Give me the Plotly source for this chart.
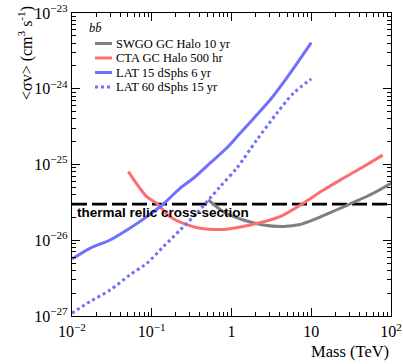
import plotly.graph_objects as go

# ---------------- data ----------------
swgo_mass = [0.512, 0.789, 1.41, 2.51, 4.47, 7.23, 11.7, 19.9, 32.1, 60.0, 100.0]
swgo_sigma = [3.40e-26, 2.38e-26, 1.85e-26, 1.59e-26, 1.52e-26, 1.61e-26, 1.94e-26,
              2.47e-26, 3.08e-26, 4.17e-26, 5.65e-26]

cta_mass = [0.0508, 0.0865, 0.115, 0.169, 0.249, 0.403, 0.789, 1.71, 4.06, 7.94,
            14.2, 25.2, 45.0, 78.7]
cta_sigma = [8.04e-26, 3.76e-26, 3.08e-26, 2.05e-26, 1.67e-26, 1.44e-26, 1.39e-26,
             1.59e-26, 2.05e-26, 3.08e-26, 4.60e-26, 6.58e-26, 9.35e-26, 1.33e-25]

lat15_mass = [0.01, 0.0168, 0.03, 0.053, 0.087, 0.14, 0.226, 0.332, 0.537, 0.871,
              1.28, 2.07, 3.04, 5.42, 10.0]
lat15_sigma = [5.65e-27, 7.83e-27, 1.007e-26, 1.44e-26, 2.05e-26, 3.01e-26, 4.85e-26,
               6.58e-26, 1.04e-25, 1.65e-25, 2.58e-25, 4.50e-25, 7.10e-25, 1.60e-24,
               4.06e-24]

lat60_mass = [0.01, 0.0168, 0.03, 0.053, 0.087, 0.14, 0.226, 0.366, 0.718, 1.16,
              2.07, 3.69, 5.96, 10.0]
lat60_sigma = [1.09e-27, 1.55e-27, 2.20e-27, 3.48e-27, 4.97e-27, 8.22e-27, 1.36e-26,
               2.27e-26, 5.09e-26, 8.91e-26, 2.10e-25, 4.74e-25, 8.71e-25, 1.35e-24]

thermal_mass = [0.01, 100.0]
thermal_sigma = 3e-26

series_names = ["SWGO GC Halo 10 yr", "CTA GC Halo 500 hr",
                "LAT 15 dSphs 6 yr", "LAT 60 dSphs 15 yr"]
channel_label = "<i>b</i><i>b\u0304</i>"
thermal_label = "thermal relic cross-section"

x_tickvals = [0.01, 0.1, 1, 10, 100]
x_ticktext = ["10<sup>\u22122</sup>", "10<sup>\u22121</sup>", "1", "10", "10<sup>2</sup>"]
y_tickvals = [1e-27, 1e-26, 1e-25, 1e-24, 1e-23]
y_ticktext = ["10<sup>\u221227</sup>", "10<sup>\u221226</sup>", "10<sup>\u221225</sup>",
              "10<sup>\u221224</sup>", "10<sup>\u221223</sup>"]

# ---------------- styles ----------------
GRAY = "#7f7f7f"
RED = "#ff6e6e"
BLUE = "#7070ff"
SERIF = "Liberation Serif"
SANS = "Liberation Sans"

fig = go.Figure()

fig.add_trace(go.Scatter(x=thermal_mass, y=[thermal_sigma] * len(thermal_mass),
                         mode="lines", line=dict(color="black", width=2.6, dash="15px,5px"),
                         showlegend=False, hoverinfo="skip"))

styles = [
    (swgo_mass, swgo_sigma, GRAY, "solid"),
    (cta_mass, cta_sigma, RED, "solid"),
    (lat15_mass, lat15_sigma, BLUE, "solid"),
    (lat60_mass, lat60_sigma, BLUE, "3px,3px"),
]
for (mx, sy, col, dash), name in zip(styles, series_names):
    fig.add_trace(go.Scatter(x=mx, y=sy, mode="lines", name=name,
                             line=dict(color=col, width=3, dash=dash, shape="spline", smoothing=0.8),
                             showlegend=False))

# ---------------- manual legend ----------------
L, R, T, B = 72, 391, 13, 316
W, H = R - L, B - T


def px(xp):
    return (xp - L) / W


def py(yp):
    return (B - yp) / H


rows_y = [43.5, 58, 72.5, 87]
for (mx, sy, col, dash), name, yy in zip(styles, series_names, rows_y):
    fig.add_shape(type="line", xref="paper", yref="paper",
                  x0=px(95), x1=px(112), y0=py(yy), y1=py(yy),
                  line=dict(color=col, width=3, dash=dash))
    fig.add_annotation(xref="paper", yref="paper", x=px(114), y=py(yy), text=name,
                       showarrow=False, xanchor="left", yanchor="middle",
                       font=dict(family=SERIF, size=12.5, color="black"))

fig.add_annotation(xref="paper", yref="paper", x=px(87), y=py(28), text=channel_label,
                   showarrow=False, xanchor="left", yanchor="middle",
                   font=dict(family=SERIF, size=12.5, color="black"))

fig.add_annotation(xref="paper", yref="paper", x=px(75), y=py(212), text="<b>" + thermal_label + "</b>",
                   showarrow=False, xanchor="left", yanchor="middle",
                   font=dict(family=SANS, size=13.5, color="black"))

fig.add_annotation(xref="paper", yref="paper", x=1.0, y=py(351), text="Mass (TeV)",
                   showarrow=False, xanchor="right", yanchor="middle",
                   font=dict(family=SERIF, size=16.5, color="black"))

fig.add_annotation(xref="paper", yref="paper", x=px(25), y=py(53), textangle=-90,
                   text="&lt;σv&gt; (cm<sup>3</sup> s<sup>-1</sup>)",
                   showarrow=False, xanchor="center", yanchor="middle",
                   font=dict(family=SERIF, size=16, color="black"))

minor_x = [m * 10 ** e for e in range(-2, 2) for m in range(2, 10)]
minor_y = [m * 10.0 ** e for e in range(-27, -23) for m in range(2, 10)]

axis_common = dict(type="log", showline=True, linecolor="black", linewidth=1.2,
                   mirror="allticks", ticks="inside", ticklen=8, tickwidth=1,
                   tickcolor="black", showgrid=False, zeroline=False, automargin=False,
                   tickfont=dict(family=SERIF, size=16, color="black"))

fig.update_xaxes(range=[-2, 2], tickmode="array", tickvals=x_tickvals, ticktext=x_ticktext,
                 ticklabelstandoff=1,
                 minor=dict(ticks="inside", ticklen=4, tickwidth=1, tickcolor="black",
                            tickmode="array", tickvals=minor_x, showgrid=False),
                 **axis_common)
fig.update_yaxes(range=[-27, -23], tickmode="array", tickvals=y_tickvals, ticktext=y_ticktext,
                 minor=dict(ticks="inside", ticklen=4, tickwidth=1, tickcolor="black",
                            tickmode="array", tickvals=minor_y, showgrid=False),
                 **axis_common)

fig.update_layout(width=403, height=364, margin=dict(l=L, r=403 - R, t=T, b=364 - B),
                  paper_bgcolor="white", plot_bgcolor="white", showlegend=False,
                  font=dict(family=SERIF, color="black"))

fig.write_html("out.html", config={"displayModeBar": False},
               post_script="document.body.style.margin='0px';document.body.style.padding='0px';")
